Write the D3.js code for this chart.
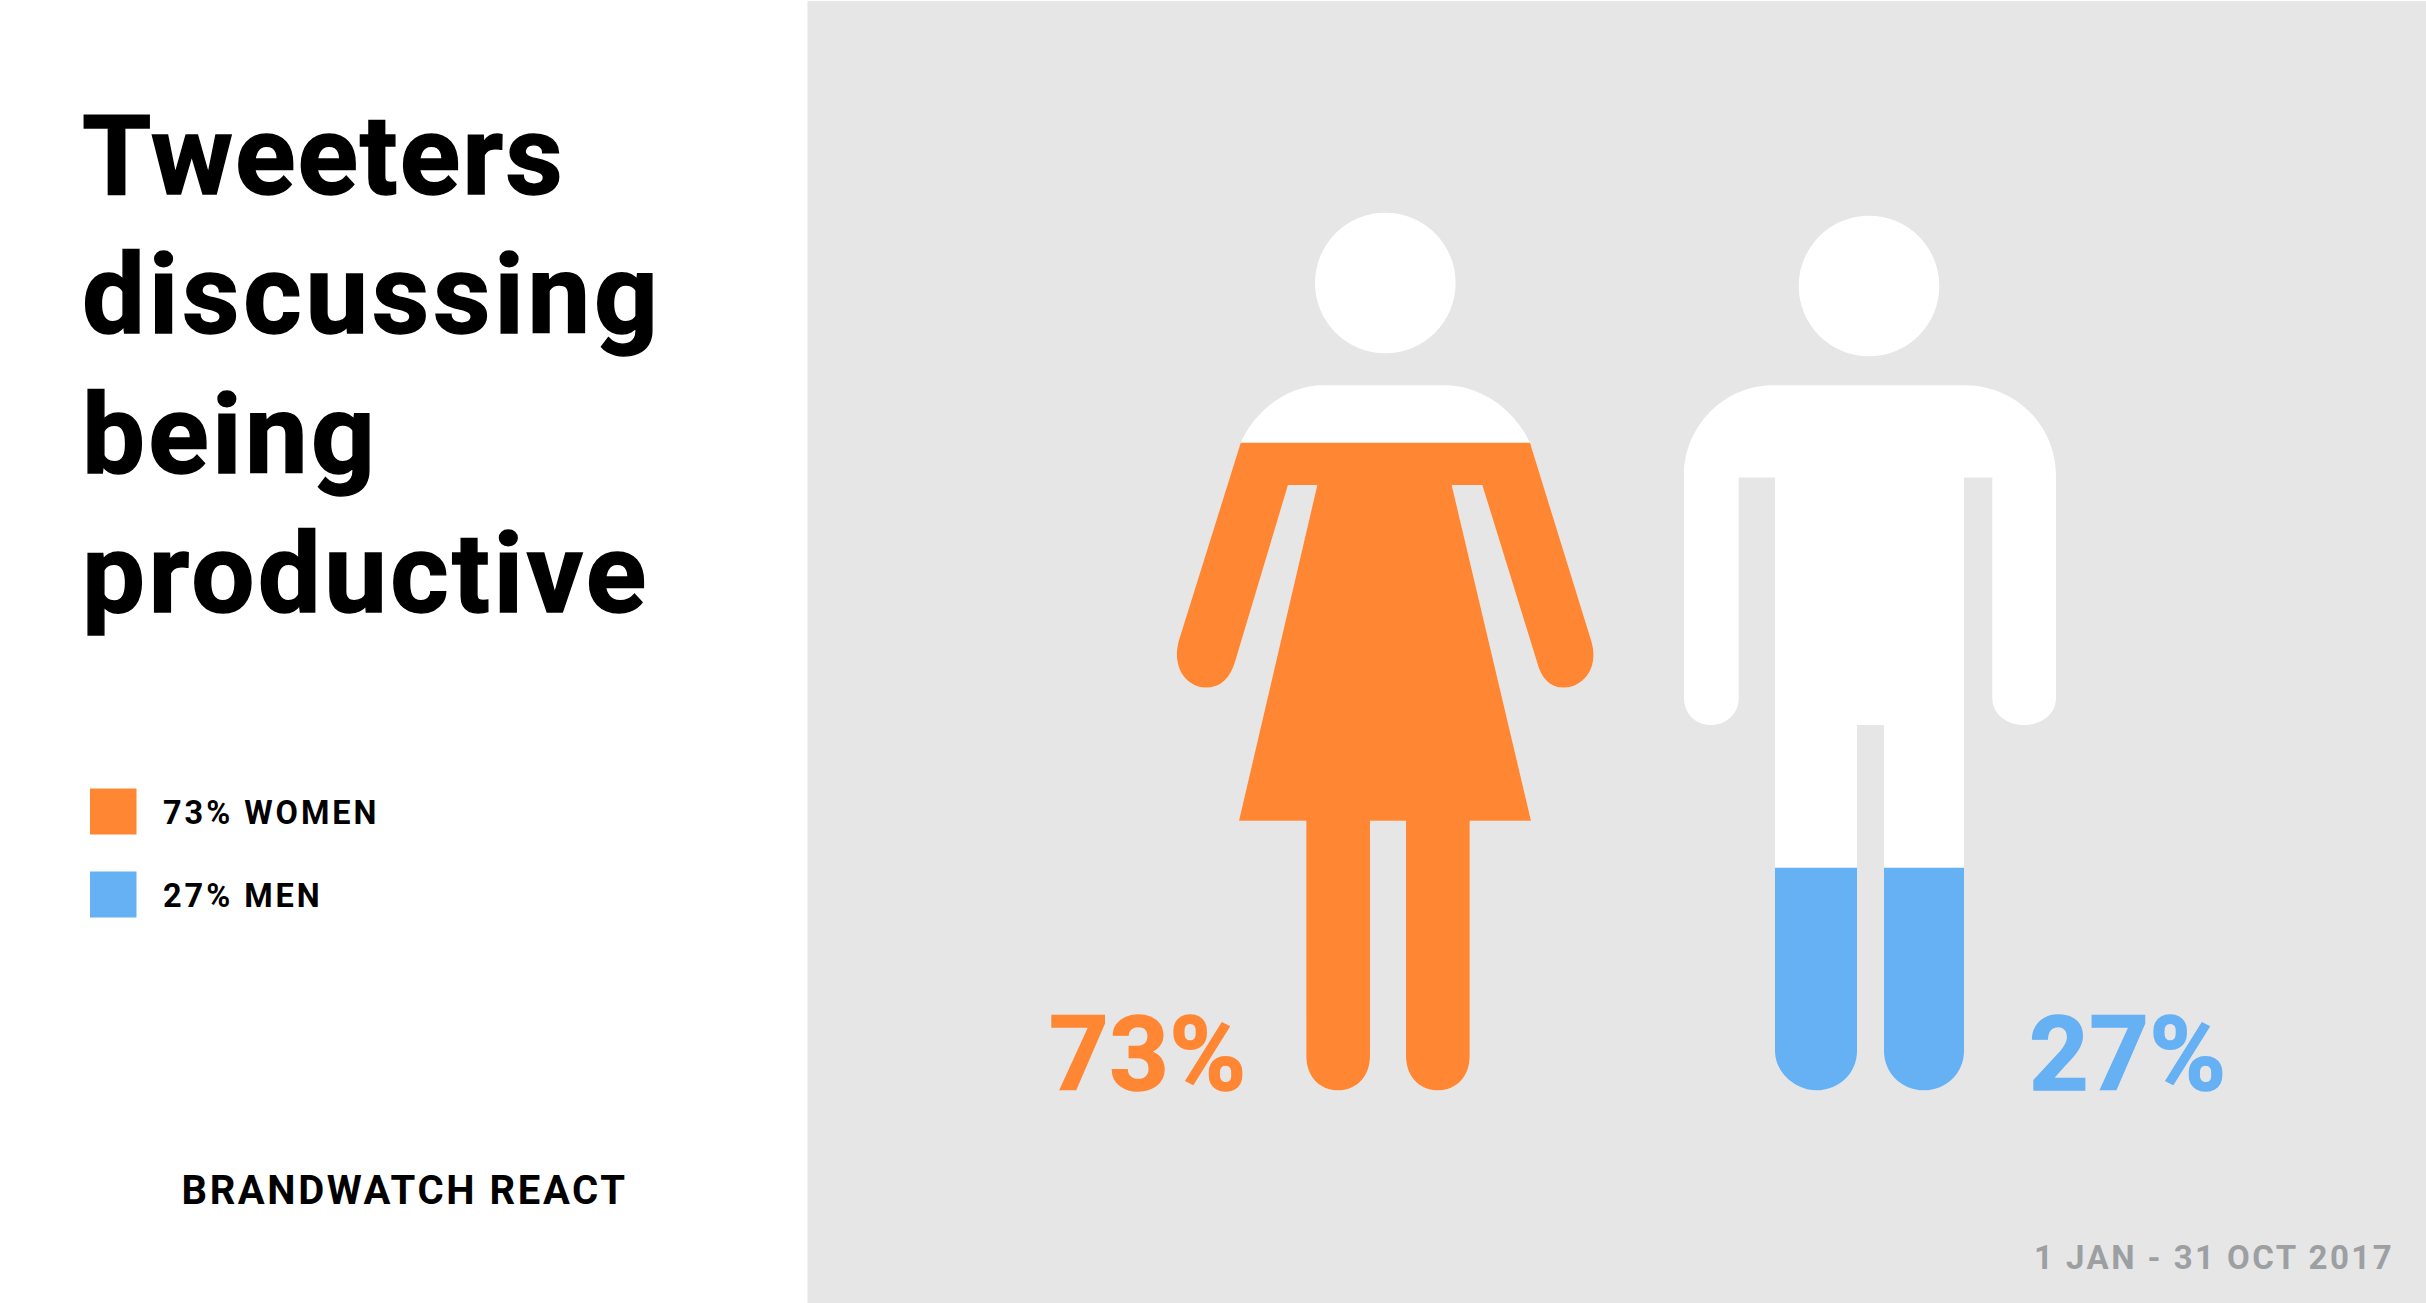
<!DOCTYPE html>
<html><head><meta charset="utf-8">
<script src="https://cdn.jsdelivr.net/npm/d3@7"></script>
<style>html,body{margin:0;padding:0;background:#fff}svg{display:block}text{font-family:Roboto,sans-serif}</style>
</head><body><div id="chart"></div>
<script>
const titleLines = ["Tweeters","discussing","being","productive"];
const genders = ["WOMEN","MEN"];
const shares = [73,27];
const colours = ["#ff8633","#66b0f4"];
const sourceLabel = "BRANDWATCH REACT";
const dateLabel = "1 JAN - 31 OCT 2017";

const W=2426,H=1303;
const svg=d3.select("#chart").append("svg").attr("width",W).attr("height",H);
svg.append("rect").attr("width",W).attr("height",H).attr("fill","#fff");
svg.append("rect").attr("x",807.5).attr("y",1).attr("width",W-807.5).attr("height",H-1).attr("fill","#e6e6e6");

// title
const titleSpacing=[2.0,3.7,3.3,3.4];
svg.append("g").selectAll("text").data(titleLines).join("text")
 .attr("x",82).attr("y",(d,i)=>193.5+i*139.5)
 .attr("font-size",112).attr("font-weight",700).attr("letter-spacing",(d,i)=>titleSpacing[i])
 .attr("fill","#000").attr("stroke","#000").attr("stroke-width",1.4).text(d=>d);

// legend
const legendY=d3.scalePoint().domain(genders).range([788.5,871.5]);
const leg=svg.append("g").selectAll("g").data(genders).join("g");
leg.append("rect").attr("x",90).attr("y",d=>legendY(d)).attr("width",46.5).attr("height",46).attr("fill",(d,i)=>colours[i]);
leg.append("text").attr("x",163).attr("y",d=>legendY(d)+35).attr("font-size",32.5).attr("font-weight",700)
 .attr("letter-spacing",2.95).attr("fill","#000").text((d,i)=>`${shares[i]}% ${d}`);

svg.append("text").attr("x",181.5).attr("y",1203.5).attr("font-size",40).attr("font-weight",700)
 .attr("letter-spacing",2.6).attr("fill","#000").text(sourceLabel);
svg.append("text").attr("x",2034).attr("y",1269).attr("font-size",33).attr("font-weight",700)
 .attr("letter-spacing",2.45).attr("fill","#9ca0a2").text(dateLabel);

// silhouettes
function womanPath(){const p=d3.path();
 p.moveTo(1323,385.2);p.lineTo(1445,385.2);
 p.bezierCurveTo(1481,385.2,1515,410,1530,442.8);
 p.lineTo(1591,640);p.bezierCurveTo(1600,668,1583,687.6,1563,687.6);
 p.bezierCurveTo(1550,687.6,1541,678,1537,662);
 p.lineTo(1482.3,485);p.lineTo(1451.7,485);p.lineTo(1531,820.7);
 p.lineTo(1469.7,820.7);p.lineTo(1469.7,1056);
 p.bezierCurveTo(1469.7,1077,1456,1090.3,1437.9,1090.3);
 p.bezierCurveTo(1420,1090.3,1406,1077,1406,1056);
 p.lineTo(1406,820.7);p.lineTo(1370,820.7);p.lineTo(1370,1056);
 p.bezierCurveTo(1370,1077,1356,1090.3,1338.2,1090.3);
 p.bezierCurveTo(1320,1090.3,1306.3,1077,1306.3,1056);
 p.lineTo(1306.3,820.7);p.lineTo(1239,820.7);p.lineTo(1317.3,485);p.lineTo(1288,485);
 p.lineTo(1235,662);p.bezierCurveTo(1230,678,1221,687.6,1206,687.6);
 p.bezierCurveTo(1187,687.6,1171,668,1179,640);
 p.lineTo(1240.7,442.8);p.bezierCurveTo(1255,410,1288,385.2,1323,385.2);p.closePath();
 p.moveTo(1455.6,283);p.arc(1385.3,283,70.3,0,2*Math.PI);p.closePath();
 return p.toString();}
function manPath(){const p=d3.path();
 p.moveTo(1773,385.2);p.lineTo(1965,385.2);
 p.bezierCurveTo(2015,385.2,2056,425,2056,476);
 p.lineTo(2056,698);p.bezierCurveTo(2056,715,2040,725,2024,725);
 p.bezierCurveTo(2008,725,1992.3,715,1992.3,698);
 p.lineTo(1992.3,477.5);p.lineTo(1964,477.5);p.lineTo(1964,1051.7);
 p.bezierCurveTo(1964,1072,1947,1090.3,1924,1090.3);
 p.bezierCurveTo(1901,1090.3,1884,1072,1884,1051.7);
 p.lineTo(1884,725);p.lineTo(1857,725);p.lineTo(1857,1051.7);
 p.bezierCurveTo(1857,1072,1840,1090.3,1816,1090.3);
 p.bezierCurveTo(1795,1090.3,1775,1072,1775,1051.7);
 p.lineTo(1775,477.5);p.lineTo(1738.7,477.5);p.lineTo(1738.7,698);
 p.bezierCurveTo(1738.7,715,1725,725,1711,725);
 p.bezierCurveTo(1697,725,1684,715,1684,698);
 p.lineTo(1684,476);p.bezierCurveTo(1684,425,1725,385.2,1773,385.2);p.closePath();
 p.moveTo(1939.3,286);p.arc(1869,286,70.3,0,2*Math.PI);p.closePath();
 return p.toString();}
const paths=[womanPath(),manPath()];
// level scales, one per figure: feet at 0, each figure's own top at 100
const levelScales=[
 d3.scaleLinear().domain([0,100]).range([1090.3,203.3]),
 d3.scaleLinear().domain([0,100]).range([1090.3,266])
];
const defs=svg.append("defs");
genders.forEach((g,i)=>{
 defs.append("clipPath").attr("id","clip"+i).append("rect")
  .attr("x",1100).attr("width",1100)
  .attr("y",levelScales[i](shares[i])).attr("height",levelScales[i](0)-levelScales[i](shares[i])+2);
 svg.append("path").attr("d",paths[i]).attr("fill","#fff");
 svg.append("path").attr("d",paths[i]).attr("fill",colours[i]).attr("clip-path",`url(#clip${i})`);
});
// big percentages
const pctX=[1049,2029];
svg.append("g").selectAll("text").data(shares).join("text")
 .attr("x",(d,i)=>pctX[i]).attr("y",1090).attr("font-size",104).attr("font-weight",700)
 .attr("letter-spacing",0.5).attr("stroke",(d,i)=>colours[i]).attr("stroke-width",1.4)
 .attr("fill",(d,i)=>colours[i]).text(d=>d+"%");
</script></body></html>
